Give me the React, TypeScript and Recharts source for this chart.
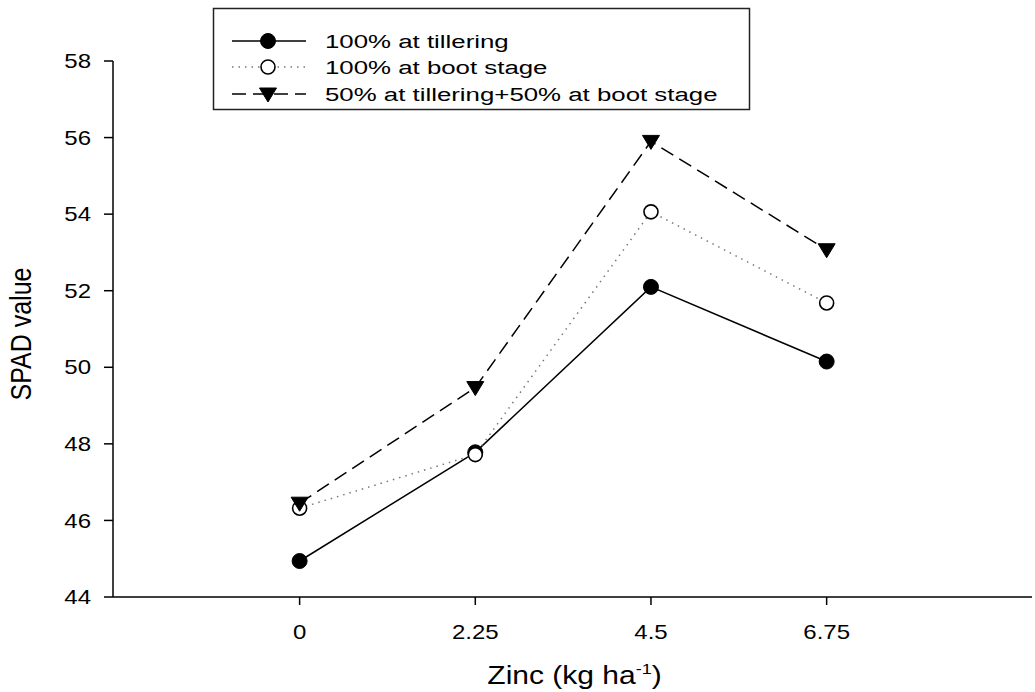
import React from "react";
import { LineChart, Line, XAxis, YAxis, Label } from "recharts";

const zincRates = [0, 2.25, 4.5, 6.75];
const tillering = [44.94, 47.78, 52.1, 50.15];
const bootStage = [46.32, 47.72, 54.06, 51.68];
const splitApplied = [46.45, 49.47, 55.9, 53.07];

const yTicks = [44, 46, 48, 50, 52, 54, 56, 58];
const seriesNames = [
  "100% at tillering",
  "100% at boot stage",
  "50% at tillering+50% at boot stage",
];

const data = zincRates.map((zn, i) => ({
  zn,
  tillering: tillering[i],
  boot: bootStage[i],
  split: splitApplied[i],
}));

const FONT = "'Liberation Sans', Arial, sans-serif";
// the source image is stretched sideways, so text gets a horizontal scale
const STRETCH = 1.2;

const FilledDot = (props: any) => {
  const { cx, cy } = props;
  if (cx == null || cy == null) return null;
  return <circle cx={cx} cy={cy} r={7.5} fill="#000" stroke="#000" strokeWidth={1} />;
};

const OpenDot = (props: any) => {
  const { cx, cy } = props;
  if (cx == null || cy == null) return null;
  return <circle cx={cx} cy={cy} r={7} fill="#fff" stroke="#000" strokeWidth={1.6} />;
};

const TriangleDot = (props: any) => {
  const { cx, cy } = props;
  if (cx == null || cy == null) return null;
  return (
    <path
      d={`M${cx - 8.5},${cy - 6} L${cx + 8.5},${cy - 6} L${cx},${cy + 8} Z`}
      fill="#000"
      stroke="#000"
      strokeWidth={1}
    />
  );
};

const YTick = (props: any) => {
  const { x, y, payload } = props;
  return (
    <text
      transform={`translate(${x},${y}) scale(${STRETCH},1)`}
      textAnchor="end"
      dy="0.36em"
      fontFamily={FONT}
      fontSize={20}
      fill="#000"
    >
      {payload.value}
    </text>
  );
};

const XTick = (props: any) => {
  const { x, y, payload } = props;
  return (
    <text
      transform={`translate(${x},${y}) scale(${STRETCH},1)`}
      textAnchor="middle"
      dy="0.72em"
      fontFamily={FONT}
      fontSize={20}
      fill="#000"
    >
      {payload.value}
    </text>
  );
};

const XTitle = (props: any) => {
  const { viewBox } = props;
  const cx = viewBox.x + viewBox.width / 2;
  return (
    <text
      transform={`translate(${cx + 2},684) scale(${STRETCH},1)`}
      textAnchor="middle"
      fontFamily={FONT}
      fontSize={25}
      fill="#000"
    >
      Zinc (kg ha
      <tspan dy={-10} fontSize={15}>-1</tspan>
      <tspan dy={10}>)</tspan>
    </text>
  );
};

const YTitle = () => (
  <text
    transform={`translate(31,334) rotate(-90) scale(1,${STRETCH})`}
    textAnchor="middle"
    fontFamily={FONT}
    fontSize={25}
    fill="#000"
  >
    SPAD value
  </text>
);

const LegendBox = () => {
  const rows = [
    { y: 38, dash: undefined, stroke: "#000", marker: "filled" },
    { y: 64, dash: "1.5 5", stroke: "#777", marker: "open" },
    { y: 91, dash: "14 7", stroke: "#000", marker: "tri" },
  ];
  return (
    <svg width={545} height={110} style={{ position: "absolute", left: 208, top: 3 }}>
      <rect x={5.5} y={5.5} width={536} height={101} fill="#fff" stroke="#222" strokeWidth={1.5} />
      {rows.map((r, i) => (
        <g key={i}>
          <line x1={24} x2={98} y1={r.y} y2={r.y} stroke={r.stroke} strokeWidth={1.5} strokeDasharray={r.dash} />
          {r.marker === "filled" && <FilledDot cx={60} cy={r.y} />}
          {r.marker === "open" && <OpenDot cx={60} cy={r.y} />}
          {r.marker === "tri" && <TriangleDot cx={60} cy={r.y} />}
          <text
            transform={`translate(117,${r.y + 7}) scale(1.36,1)`}
            fontFamily={FONT}
            fontSize={19}
            fill="#000"
          >
            {seriesNames[i]}
          </text>
        </g>
      ))}
    </svg>
  );
};

export default function App() {
  return (
    <div style={{ position: "absolute", left: 0, top: 0, width: 1035, height: 692, background: "#fff" }}>
      <LineChart width={1035} height={692} data={data} margin={{ top: 61, right: 3, left: 0, bottom: 0 }}>
        <XAxis
          dataKey="zn"
          type="number"
          domain={[-2.39, 9.38]}
          ticks={zincRates}
          allowDataOverflow
          height={95}
          stroke="#000"
          strokeWidth={1.5}
          tickSize={8}
          tickMargin={20}
          tick={<XTick />}
        >
          <Label content={<XTitle />} />
        </XAxis>
        <YAxis
          type="number"
          domain={[44, 58]}
          ticks={yTicks}
          width={113}
          stroke="#000"
          strokeWidth={1.5}
          tickSize={9}
          tickMargin={13}
          tick={<YTick />}
        >
          <Label content={<YTitle />} />
        </YAxis>
        <Line
          dataKey="tillering"
          stroke="#000"
          strokeWidth={1.5}
          dot={<FilledDot />}
          activeDot={false}
          isAnimationActive={false}
        />
        <Line
          dataKey="boot"
          stroke="#777"
          strokeWidth={1.5}
          strokeDasharray="1.5 5"
          dot={<OpenDot />}
          activeDot={false}
          isAnimationActive={false}
        />
        <Line
          dataKey="split"
          stroke="#000"
          strokeWidth={1.5}
          strokeDasharray="14 7"
          dot={<TriangleDot />}
          activeDot={false}
          isAnimationActive={false}
        />
      </LineChart>
      <LegendBox />
    </div>
  );
}
